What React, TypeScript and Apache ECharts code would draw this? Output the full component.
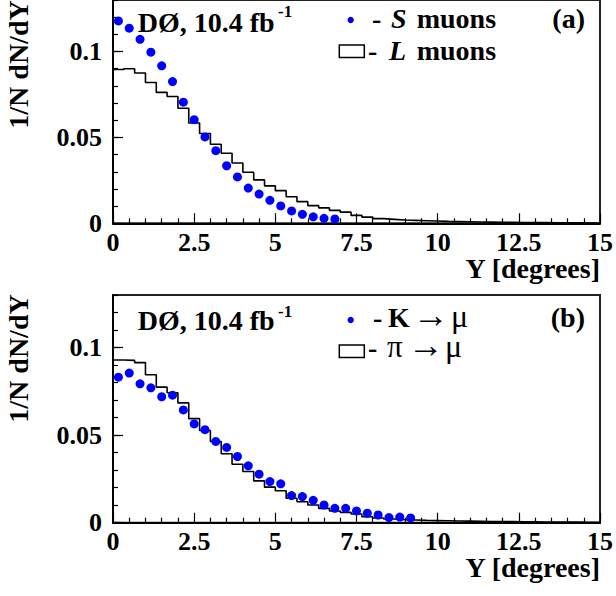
import React, { useEffect, useRef } from 'react';
import * as echarts from 'echarts';

// ---- data (bin width 1/3 degree, 45 bins from 0 to 15 degrees) ----
const BIN_WIDTH = 1 / 3;
const X_MIN = 0;
const X_MAX = 15;
const Y_MAX = 0.13;

// Panel (a): S muons (points at bin centres)
const sMuons = [
  0.1178, 0.1136, 0.1071, 0.0996, 0.0917, 0.0825, 0.0705, 0.0603, 0.0503, 0.0423,
  0.0335, 0.0270, 0.0205, 0.0170, 0.0134, 0.0101, 0.0072, 0.0052, 0.0038, 0.0029,
  0.0025,
];
// Panel (a): L muons (histogram)
const lMuons = [
  0.0895, 0.0900, 0.0875, 0.0820, 0.0762, 0.0738, 0.0670, 0.0584, 0.0523, 0.0460,
  0.0408, 0.0351, 0.0297, 0.0253, 0.0218, 0.0190, 0.0155, 0.0126, 0.0103, 0.0090,
  0.0075, 0.0065, 0.0046, 0.0036, 0.0027, 0.0023, 0.0019, 0.0017, 0.0015, 0.0013,
  0.0011, 0.0010, 0.0009, 0.0008, 0.0007, 0.0006, 0.0006, 0.0005, 0.0004, 0.0004,
  0.0003, 0.0003, 0.0003, 0.0002, 0.0002,
];
// Panel (b): K -> mu (points)
const kMu = [
  0.0831, 0.0854, 0.0793, 0.0770, 0.0719, 0.0728, 0.0644, 0.0564, 0.0531, 0.0464,
  0.0430, 0.0378, 0.0325, 0.0277, 0.0235, 0.0222, 0.0155, 0.0149, 0.0128, 0.0101,
  0.0082, 0.0082, 0.0067, 0.0054, 0.0044, 0.0029, 0.0032, 0.0027,
];
// Panel (b): pi -> mu (histogram)
const piMu = [
  0.0929, 0.0927, 0.0914, 0.0845, 0.0774, 0.0742, 0.0684, 0.0594, 0.0526, 0.0464,
  0.0394, 0.0334, 0.0292, 0.0239, 0.0203, 0.0182, 0.0140, 0.0120, 0.0101, 0.0082,
  0.0067, 0.0059, 0.0050, 0.0034, 0.0027, 0.0021, 0.0017, 0.0015, 0.0013, 0.0012,
  0.0011, 0.0010, 0.0009, 0.0008, 0.0007, 0.0006, 0.0006, 0.0005, 0.0005, 0.0004,
  0.0004, 0.0003, 0.0003, 0.0002, 0.0002,
];

const FONT = "'Liberation Serif', 'Times New Roman', Times, serif";

function histData(vals: number[]) {
  const d: number[][] = vals.map((v, i) => [i * BIN_WIDTH, v]);
  d.push([vals.length * BIN_WIDTH, vals[vals.length - 1]]);
  return d;
}
function pointData(vals: number[]) {
  return vals.map((v, i) => [(i + 0.5) * BIN_WIDTH, v]);
}

function txt(x: number, baseline: number, text: string, size: number, weight: string, align: string, italic = false, lineHeight?: number) {
  return {
    type: 'text',
    x,
    y: baseline - 0.305 * size,
    silent: true,
    style: {
      text,
      x: 0,
      y: 0,
      fill: '#000',
      fontFamily: FONT,
      fontSize: size,
      fontWeight: weight,
      fontStyle: italic ? 'italic' : 'normal',
      lineHeight: lineHeight ?? size,
      align,
      verticalAlign: 'middle',
      textAlign: align,
      textVerticalAlign: 'middle',
    },
  };
}

function yTitle(cy: number) {
  return {
    type: 'text',
    x: 18.5,
    y: cy,
    rotation: Math.PI / 2,
    silent: true,
    style: {
      text: '1/N dN/dY',
      x: 0,
      y: 0,
      fill: '#000',
      fontFamily: FONT,
      fontSize: 28,
      fontWeight: 'bold',
      align: 'center',
      verticalAlign: 'middle',
      textAlign: 'center',
      textVerticalAlign: 'middle',
    },
  };
}

function xAxisFor(gridIndex: number) {
  return {
    type: 'value',
    gridIndex,
    min: X_MIN,
    max: X_MAX,
    interval: 2.5,
    axisLine: { show: true, onZero: false, lineStyle: { color: '#000', width: 2 } },
    axisTick: { show: true, inside: true, length: 10, lineStyle: { color: '#000', width: 1.2 } },
    minorTick: { show: true, splitNumber: 5, length: 5, lineStyle: { color: '#000', width: 1.2 } },
    splitLine: { show: false },
    minorSplitLine: { show: false },
    axisLabel: { show: true, margin: 9, lineHeight: 20, color: '#000', fontFamily: FONT, fontWeight: 'bold', fontSize: 26 },
  };
}
function yMinorAxis(gridIndex: number) {
  return {
    type: 'value',
    gridIndex,
    min: 0,
    max: Y_MAX,
    interval: 0.01,
    position: 'left',
    axisLine: { show: true, onZero: false, lineStyle: { color: '#000', width: 2 } },
    axisTick: { show: true, inside: true, length: 5, lineStyle: { color: '#000', width: 1.2 } },
    splitLine: { show: false },
    axisLabel: { show: false },
  };
}
function yMajorAxis(gridIndex: number) {
  return {
    type: 'value',
    gridIndex,
    min: 0,
    max: Y_MAX,
    interval: 0.05,
    position: 'left',
    axisLine: { show: false, onZero: false },
    axisTick: { show: true, inside: true, length: 10, lineStyle: { color: '#000', width: 1.2 } },
    splitLine: { show: false },
    axisLabel: {
      show: true,
      margin: 11,
      showMaxLabel: false,
      color: '#000',
      fontFamily: FONT,
      fontWeight: 'bold',
      fontSize: 26,
    },
  };
}

export default function App() {
  const ref = useRef<HTMLDivElement>(null);
  useEffect(() => {
    const chart = echarts.init(ref.current!, undefined, { renderer: 'svg' });
    const option: any = {
      animation: false,
      backgroundColor: '#fff',
      textStyle: { fontFamily: FONT },
      grid: [
        { left: 113, right: 15, top: -2.9, bottom: 372.7, show: true, borderColor: '#222', borderWidth: 2, backgroundColor: 'transparent' },
        { left: 113, right: 15, top: 295, bottom: 73.3, show: true, borderColor: '#222', borderWidth: 2, backgroundColor: 'transparent' },
      ],
      xAxis: [xAxisFor(0), xAxisFor(1)],
      yAxis: [yMinorAxis(0), yMajorAxis(0), yMinorAxis(1), yMajorAxis(1)],
      series: [
        {
          type: 'line', xAxisIndex: 0, yAxisIndex: 0, step: 'end', symbol: 'none', z: 2,
          lineStyle: { color: '#000', width: 1.6 }, data: histData(lMuons),
        },
        {
          type: 'scatter', xAxisIndex: 0, yAxisIndex: 0, symbol: 'circle', symbolSize: 9, z: 3,
          itemStyle: { color: '#0000ff', opacity: 1 }, data: pointData(sMuons),
        },
        {
          type: 'line', xAxisIndex: 1, yAxisIndex: 2, step: 'end', symbol: 'none', z: 2,
          lineStyle: { color: '#000', width: 1.6 }, data: histData(piMu),
        },
        {
          type: 'scatter', xAxisIndex: 1, yAxisIndex: 2, symbol: 'circle', symbolSize: 9, z: 3,
          itemStyle: { color: '#0000ff', opacity: 1 }, data: pointData(kMu),
        },
      ],
      graphic: [
        // panel (a)
        txt(137.7, 31, 'DØ, 10.4 fb', 28, 'bold', 'left'),
        txt(278, 16.7, '-1', 17, 'bold', 'left'),
        { type: 'circle', silent: true, shape: { cx: 350.7, cy: 20, r: 3.2 }, style: { fill: '#0000ff' } },
        txt(372, 26.7, '-', 28, 'bold', 'left', false, 24),
        txt(391, 26.7, 'S', 28, 'bold', 'left', true, 24),
        txt(416.7, 26.7, 'muons', 28, 'bold', 'left', false, 24),
        { type: 'rect', silent: true, shape: { x: 339.3, y: 45, width: 25, height: 12.5 }, style: { fill: '#fff', stroke: '#000', lineWidth: 1.5 } },
        txt(368, 59.3, '-', 28, 'bold', 'left', false, 24),
        txt(389, 59.3, 'L', 28, 'bold', 'left', true, 24),
        txt(416.7, 59.3, 'muons', 28, 'bold', 'left', false, 24),
        txt(585, 27, '(a)', 28, 'bold', 'right'),
        txt(600, 276.7, 'Y [degrees]', 28, 'bold', 'right', false, 22),
        yTitle(64.5),
        // panel (b)
        txt(137.7, 329.3, 'DØ, 10.4 fb', 28, 'bold', 'left'),
        txt(278, 316.7, '-1', 17, 'bold', 'left'),
        { type: 'circle', silent: true, shape: { cx: 350.7, cy: 320, r: 3.2 }, style: { fill: '#0000ff' } },
        txt(373, 326, '-', 28, 'bold', 'left', false, 24),
        txt(388, 326, 'K', 28, 'bold', 'left', false, 24),
        txt(413, 326, '→', 36, 'normal', 'left', false, 22),
        txt(451, 326, 'μ', 32, 'normal', 'left', false, 24),
        { type: 'rect', silent: true, shape: { x: 339.3, y: 345, width: 25, height: 12.5 }, style: { fill: '#fff', stroke: '#000', lineWidth: 1.5 } },
        txt(368, 356, '-', 28, 'bold', 'left', false, 24),
        txt(387, 356, 'π', 31, 'normal', 'left', false, 24),
        txt(408, 356, '→', 36, 'normal', 'left', false, 22),
        txt(445, 356, 'μ', 32, 'normal', 'left', false, 24),
        txt(585, 326, '(b)', 28, 'bold', 'right'),
        txt(600, 576, 'Y [degrees]', 28, 'bold', 'right', false, 22),
        yTitle(358.5),
      ],
    };
    chart.setOption(option);
    return () => chart.dispose();
  }, []);
  return (
    <div
      ref={ref}
      style={{ position: 'fixed', left: 0, top: 0, width: 616, height: 596, background: '#fff' }}
    />
  );
}
